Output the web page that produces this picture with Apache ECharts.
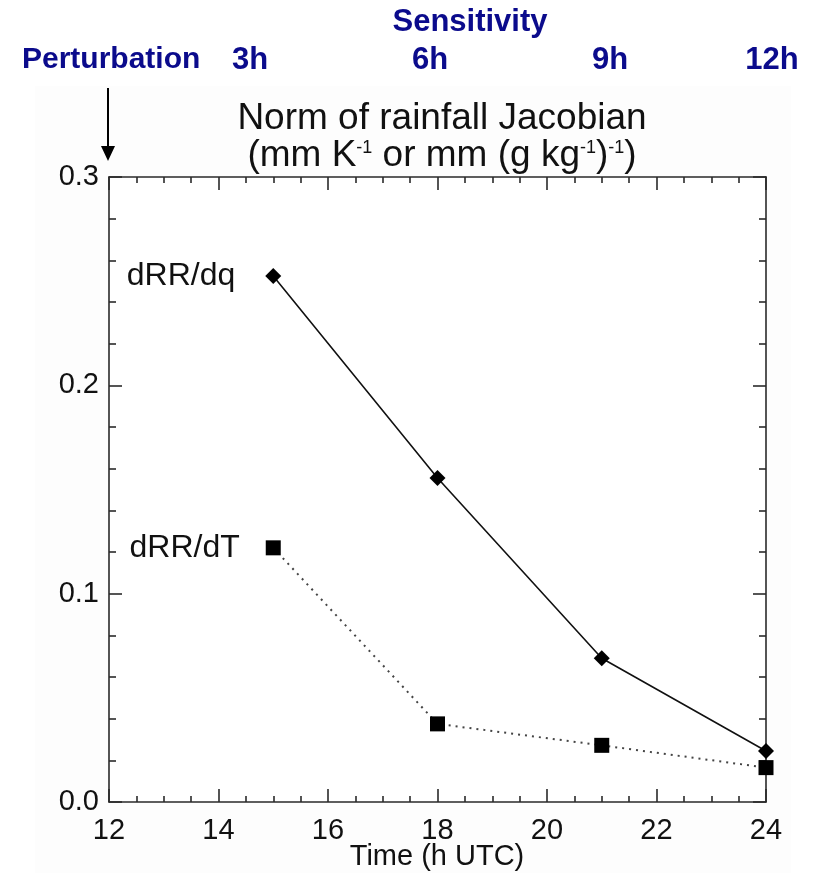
<!DOCTYPE html>
<html>
<head>
<meta charset="utf-8">
<script src="https://cdn.jsdelivr.net/npm/echarts@6/dist/echarts.min.js"></script>
<style>html,body{margin:0;padding:0;background:#fff}#c{width:816px;height:873px}</style>
</head>
<body>
<div id="c"></div>
<script>
const times = [15, 18, 21, 24];
const dRRdq = [0.2525, 0.1555, 0.069, 0.0245];
const dRRdT = [0.122, 0.0375, 0.0272, 0.0165];
const seriesNames = ['dRR/dq', 'dRR/dT'];
const sensitivityLabels = ['3h', '6h', '9h', '12h'];
const headerTitle = 'Sensitivity';
const perturbLabel = 'Perturbation';
const xAxisTitle = 'Time (h UTC)';

const FONT = '"Liberation Sans", Arial, Helvetica, sans-serif';
const BLUE = '#0b0b8c';
const AX = '#2a2a2a';

function pairs(xs, ys, labelDist) {
  return xs.map((x, i) => i === 0
    ? { value: [x, ys[i]], label: { show: true, position: 'left', distance: labelDist } }
    : [x, ys[i]]);
}

const chart = echarts.init(document.getElementById('c'), null, { renderer: 'canvas' });

const hX = [250, 430, 610, 772];
const HFONT = 'bold 30px ' + FONT;
const graphics = [
  { type: 'rect', left: 35, top: 86, shape: { width: 756, height: 787 }, style: { fill: '#fdfdfd' }, z: -10, silent: true },
  { type: 'text', x: 470, y: 22, style: { text: headerTitle, font: 'bold 31px ' + FONT, fill: BLUE, textAlign: 'center', textVerticalAlign: 'middle' } },
  { type: 'text', x: 22, y: 60, style: { text: perturbLabel, font: HFONT, fill: BLUE, textAlign: 'left', textVerticalAlign: 'middle' } },
  { type: 'line', shape: { x1: 108, y1: 88, x2: 108, y2: 150 }, style: { stroke: '#000', lineWidth: 2 } },
  { type: 'polygon', shape: { points: [[101, 146], [115, 146], [108, 161]] }, style: { fill: '#000' } },
  { type: 'text', x: 437, y: 857, style: { text: xAxisTitle, font: '29px ' + FONT, fill: '#111', textAlign: 'center', textVerticalAlign: 'middle' } }
];
sensitivityLabels.forEach((t, i) => {
  graphics.push({ type: 'text', x: hX[i], y: 60, style: { text: t, font: 'bold 31px ' + FONT, fill: BLUE, textAlign: 'center', textVerticalAlign: 'middle' } });
});

const tickCommon = {
  axisLine: { show: true, onZero: false, lineStyle: { color: AX, width: 1.6 } },
  axisTick: { show: true, inside: true, length: 13, lineStyle: { color: AX, width: 1.6 } },
  splitLine: { show: false }
};
const xMinor = { minorTick: { show: true, splitNumber: 4, length: 6, lineStyle: { color: AX, width: 1.6 } } };
const yMinor = { minorTick: { show: true, splitNumber: 5, length: 7, lineStyle: { color: AX, width: 1.6 } } };

const option = {
  backgroundColor: '#fff',
  animation: false,
  textStyle: { fontFamily: FONT },
  title: {
    text: 'Norm of rainfall Jacobian',
    subtext: '(mm K{s|-1} or mm (g kg{s|-1}){s|-1})',
    left: 437, top: 97, textAlign: 'center', itemGap: 0,
    textStyle: { fontSize: 37, fontWeight: 'normal', color: '#111', fontFamily: FONT, lineHeight: 34 },
    subtextStyle: {
      fontSize: 37, color: '#111', fontFamily: FONT, lineHeight: 34,
      rich: { s: { fontSize: 18, color: '#111', fontFamily: FONT, padding: [0, 0, 16, 0] } }
    }
  },
  graphic: graphics,
  grid: { left: 109, top: 177, width: 657, height: 625, containLabel: false, outerBoundsMode: 'none', show: true, backgroundColor: '#fff', borderWidth: 0 },
  xAxis: [
    Object.assign({
      type: 'value', min: 12, max: 24, interval: 2, position: 'bottom',
      axisLabel: { fontSize: 29, color: '#111', margin: 14, fontFamily: FONT },
    }, tickCommon, xMinor),
    Object.assign({
      type: 'value', min: 12, max: 24, interval: 2, position: 'top',
      axisLabel: { show: false }
    }, tickCommon, xMinor)
  ],
  yAxis: [
    Object.assign({
      type: 'value', min: 0, max: 0.3, interval: 0.1, position: 'left',
      axisLabel: { fontSize: 29, color: '#111', margin: 10, fontFamily: FONT, formatter: v => v.toFixed(1) },
    }, tickCommon, yMinor),
    Object.assign({
      type: 'value', min: 0, max: 0.3, interval: 0.1, position: 'right',
      axisLabel: { show: false }
    }, tickCommon, yMinor)
  ],
  series: [
    {
      name: seriesNames[0], type: 'line', xAxisIndex: 0, yAxisIndex: 0,
      data: pairs(times, dRRdq, 30),
      symbol: 'diamond', symbolSize: 16,
      itemStyle: { color: '#000' },
      lineStyle: { color: '#111', width: 1.6, type: 'solid' },
      label: { formatter: seriesNames[0], fontSize: 32, color: '#111', fontFamily: FONT },
      clip: true, z: 3
    },
    {
      name: seriesNames[1], type: 'line', xAxisIndex: 0, yAxisIndex: 0,
      data: pairs(times, dRRdT, 26),
      symbol: 'rect', symbolSize: 15,
      itemStyle: { color: '#000' },
      lineStyle: { color: '#444', width: 2, type: [2, 5] },
      label: { formatter: seriesNames[1], fontSize: 32, color: '#111', fontFamily: FONT },
      clip: true, z: 3
    }
  ]
};
chart.setOption(option);
</script>
</body>
</html>
